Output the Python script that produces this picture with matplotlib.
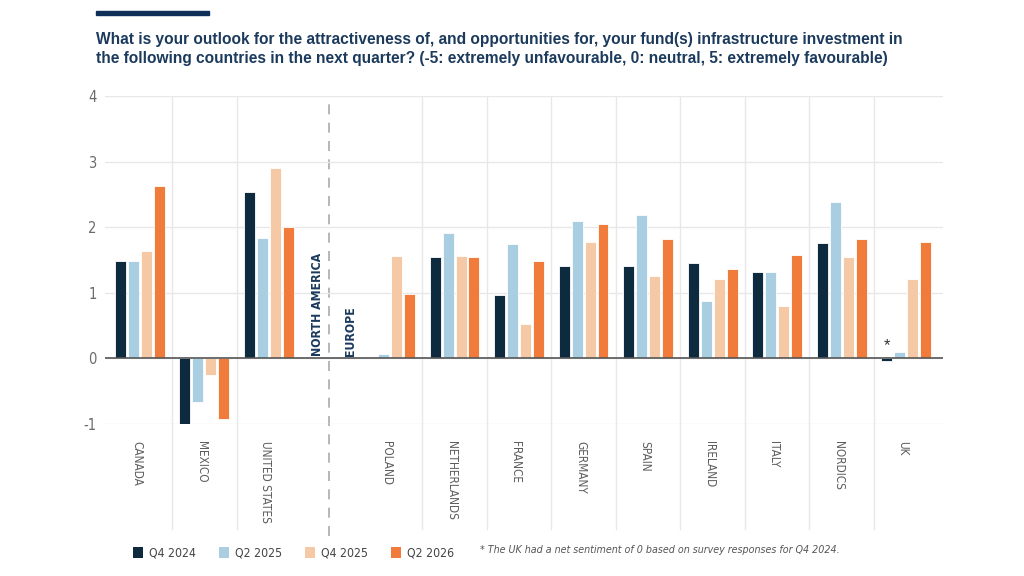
import numpy as np
import matplotlib.pyplot as plt
from matplotlib.patches import Rectangle, Patch
from matplotlib.transforms import blended_transform_factory
from matplotlib import font_manager

# データ
na_countries = ['CANADA', 'MEXICO', 'UNITED STATES']
eu_countries = ['POLAND', 'NETHERLANDS', 'FRANCE', 'GERMANY', 'SPAIN',
                'IRELAND', 'ITALY', 'NORDICS', 'UK']
series = ['Q4 2024', 'Q2 2025', 'Q4 2025', 'Q2 2026']

q4_2024 = [1.48, -1.00, 2.53, 0.00, 1.54, 0.97, 1.41, 1.41, 1.46, 1.32, 1.76, -0.04]
q2_2025 = [1.48, -0.67, 1.83, 0.06, 1.91, 1.74, 2.09, 2.18, 0.88, 1.31, 2.39, 0.10]
q4_2025 = [1.64, -0.26, 2.90, 1.56, 1.56, 0.52, 1.78, 1.25, 1.21, 0.80, 1.55, 1.21]
q2_2026 = [2.63, -0.92, 2.01, 0.98, 1.54, 1.49, 2.05, 1.82, 1.36, 1.58, 1.82, 1.77]

colors = ['#0E2A3F', '#A9CDE1', '#F5C8A6', '#F07B3A']
navy = '#1B3A5C'
grey = '#6B6B6B'

plt.rcParams['font.family'] = ['Liberation Sans', 'DejaVu Sans']
plt.rcParams['axes.unicode_minus'] = False

# 細いフォント (あれば DejaVu Sans Condensed)
cond = font_manager.FontProperties(family='DejaVu Sans', stretch='condensed')
has_cond = 'Condensed' in font_manager.findfont(cond)


def narrow(size, weight='normal', style='normal'):
    if has_cond:
        return font_manager.FontProperties(family='DejaVu Sans', stretch='condensed',
                                           size=size, weight=weight, style=style)
    return font_manager.FontProperties(family='Liberation Sans', size=size,
                                       weight=weight, style=style)


countries = na_countries + eu_countries
# 北米とヨーロッパの間に隙間を空ける
pos = np.concatenate([np.arange(len(na_countries)),
                      np.arange(len(eu_countries)) + len(na_countries) + 0.88])

fig = plt.figure(figsize=(10.24, 5.76), dpi=100)
ax = fig.add_axes([0.1025, 0.2639, 0.8184, 0.5694])

pitch = 0.2
width = 0.17
for k, vals in enumerate([q4_2024, q2_2025, q4_2025, q2_2026]):
    ax.bar(pos + (k - 1.5) * pitch, vals, width, color=colors[k],
           edgecolor='white', linewidth=0.6, zorder=3)

ax.set_xlim(-0.54, 12.45)
ax.set_ylim(-1, 4)
ax.set_yticks(range(-1, 5))
for s in ax.spines.values():
    s.set_visible(False)
ax.tick_params(axis='y', length=0, pad=6, labelcolor=grey)
for t in ax.get_yticklabels():
    t.set_fontproperties(narrow(10.5))
ax.set_xticks([])
ax.yaxis.grid(True, color='#E8E8E8', linewidth=1, zorder=0)
ax.axhline(0, color='#555555', linewidth=1.2, zorder=4)

# 縦のグリッド線 (グループ内の国の間)
tr = blended_transform_factory(ax.transData, ax.transAxes)
for grp in [range(0, 2), range(3, 11)]:
    for i in grp:
        xm = (pos[i] + pos[i + 1]) / 2
        ax.plot([xm, xm], [-0.32, 1.0], transform=tr, color='#E8E8E8',
                linewidth=1, zorder=0, clip_on=False)
xd = (pos[2] + pos[3]) / 2
ax.plot([xd, xd], [-0.34, 1.0], transform=tr, color='#AAAAAA', linewidth=1.2,
        linestyle=(0, (6, 5)), zorder=1, clip_on=False)

# 国名
for x, name in zip(pos, countries):
    ax.text(x - 0.05, -0.052, name, transform=tr, rotation=-90, ha='center',
            va='top', fontproperties=narrow(8.5), color='#5E5E5E')

# 地域名
ax.text(xd - 0.18, 0.03, 'NORTH AMERICA', rotation=90, ha='center', va='bottom',
        fontproperties=narrow(8.8, weight='bold'), color=navy)
ax.text(xd + 0.32, 0.03, 'EUROPE', rotation=90, ha='center', va='bottom',
        fontproperties=narrow(8.8, weight='bold'), color=navy)

ax.text(pos[-1] - 1.5 * pitch, 0.08, '*', ha='center', va='bottom',
        fontsize=12, color='#333333')

# タイトル
fig.patches.append(Rectangle((96 / 1024, 1 - 15 / 576), 113 / 1024, 4 / 576,
                             transform=fig.transFigure, color='#0E2F5A'))
fig.text(96 / 1024, 1 - 49 / 576,
         'What is your outlook for the attractiveness of, and opportunities for, '
         'your fund(s) infrastructure investment in\nthe following countries in the '
         'next quarter? (-5: extremely unfavourable, 0: neutral, 5: extremely favourable)',
         ha='left', va='center', fontsize=11.2, fontweight='bold', color=navy,
         linespacing=1.4)

# 凡例
handles = [Patch(facecolor=c, edgecolor='none') for c in colors]
leg = fig.legend(handles, series, loc='center left',
                 bbox_to_anchor=(122 / 1024, 1 - 553 / 576), ncol=4,
                 frameon=False, handlelength=0.8, handleheight=1.0,
                 handletextpad=0.5, columnspacing=1.9,
                 prop=narrow(8.8))
for t in leg.get_texts():
    t.set_color('#444444')

fig.text(480 / 1024, 1 - 550 / 576,
         '* The UK had a net sentiment of 0 based on survey responses for Q4 2024.',
         ha='left', va='center', fontproperties=narrow(7.7, style='italic'),
         color='#555555')

fig.savefig('out.png', dpi=100)
